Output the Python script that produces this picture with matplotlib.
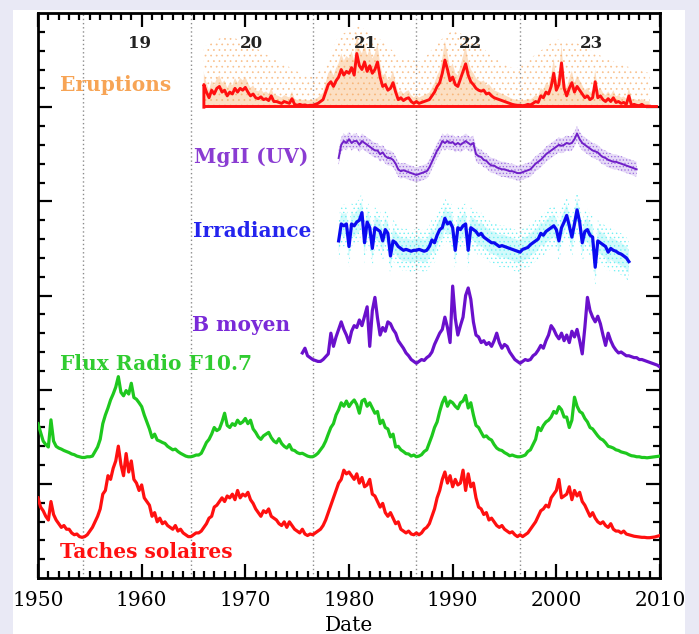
import numpy as np
import matplotlib
matplotlib.use("Agg")
import matplotlib.pyplot as plt
from matplotlib.patches import Rectangle

# ---------------- data (quarterly samples) ----------------
STEP = 0.25

# Sunspot number (monthly-like values), starts 1950.0
sunspot_start = 1950.0
sunspots = [
    110, 85, 75, 60, 50, 100, 65, 50, 40, 30, 35, 25, 25, 15, 10, 12,
    5, 3, 5, 10, 20, 30, 45, 60, 80, 120, 130, 170, 160, 190, 210, 250,
    200, 170, 230, 180, 210, 160, 150, 130, 145, 110, 100, 90, 60, 70, 45, 55,
    40, 45, 35, 30, 25, 35, 20, 25, 15, 10, 5, 5, 10, 15, 15, 20,
    30, 40, 55, 60, 85, 90, 100, 110, 100, 115, 110, 120, 105, 130, 110, 120,
    115, 125, 105, 95, 80, 70, 60, 75, 70, 80, 60, 55, 50, 40, 35, 45,
    30, 45, 35, 25, 20, 15, 25, 12, 8, 12, 10, 15, 20, 25, 35, 50,
    70, 90, 110, 130, 150, 160, 185, 175, 180, 170, 160, 175, 150, 165, 140, 145,
    160, 120, 115, 100, 85, 95, 70, 60, 70, 55, 40, 45, 25, 20, 15, 20,
    12, 10, 15, 10, 15, 25, 30, 40, 60, 80, 110, 130, 160, 180, 150, 170,
    140, 160, 145, 150, 185, 130, 175, 140, 150, 110, 85, 80, 65, 70, 50, 55,
    45, 35, 30, 35, 25, 20, 15, 18, 10, 5, 10, 5, 10, 15, 25, 35,
    45, 60, 75, 80, 90, 85, 110, 120, 130, 160, 110, 115, 120, 140, 105, 130,
    115, 125, 100, 90, 75, 60, 70, 55, 45, 40, 45, 35, 30, 40, 25, 20,
    20, 15, 20, 12, 10, 8, 6, 5, 4, 3, 3, 2, 2, 3, 4, 6,
    8,
]

# Radio flux F10.7 (sfu), starts 1950.0
f107_start = 1950.0
f107 = [
    165, 140, 115, 105, 98, 176, 115, 100, 95, 92, 88, 85, 82, 78, 76, 72,
    70, 68, 68, 70, 70, 72, 85, 98, 120, 165, 190, 210, 233, 250, 270, 300,
    255, 245, 260, 250, 281, 240, 235, 225, 214, 190, 170, 150, 125, 135, 118, 115,
    111, 108, 100, 95, 90, 92, 85, 80, 76, 72, 70, 70, 72, 75, 75, 80,
    95, 111, 120, 135, 154, 145, 150, 170, 195, 160, 154, 165, 160, 175, 165, 170,
    180, 165, 175, 150, 140, 127, 120, 130, 135, 140, 125, 115, 110, 122, 108, 100,
    95, 105, 90, 88, 82, 79, 80, 76, 72, 70, 70, 74, 80, 90, 100, 115,
    135, 154, 165, 190, 205, 225, 215, 230, 214, 225, 233, 220, 195, 230, 235, 215,
    225, 210, 195, 200, 165, 175, 154, 150, 127, 135, 98, 100, 90, 85, 79, 78,
    72, 75, 70, 72, 76, 85, 90, 110, 130, 154, 170, 200, 225, 241, 215, 230,
    225, 215, 208, 225, 230, 246, 210, 225, 190, 160, 154, 140, 127, 130, 122, 118,
    105, 95, 90, 88, 82, 78, 73, 75, 72, 70, 70, 72, 75, 85, 90, 105,
    120, 154, 145, 160, 170, 175, 184, 200, 195, 214, 205, 184, 184, 154, 175, 241,
    215, 200, 195, 180, 170, 154, 150, 140, 130, 122, 118, 110, 100, 98, 95, 90,
    88, 84, 82, 80, 76, 73, 72, 70, 70, 68, 68, 67, 68, 69, 70, 71,
    72,
]

# Mean magnetic field (relative units), starts 1975.5
bmean_start = 1975.5
bmean = [
    0.95, 1.2, 0.8, 0.7, 0.6, 0.55, 0.5, 0.5, 0.6, 0.75, 0.9, 2.0, 1.3, 1.8,
    2.2, 2.6, 2.2, 1.9, 1.5, 2.1, 2.4, 2.3, 2.7, 2.4, 2.9, 3.4, 1.3, 3.2, 3.9, 2.8,
    1.9, 2.3, 2.1, 2.6, 2.5, 2.2, 2.0, 1.6, 1.4, 1.2, 0.95, 0.8, 0.6, 0.5, 0.4, 0.5,
    0.6, 0.55, 0.7, 0.8, 1.0, 1.4, 1.7, 2.0, 2.2, 2.85, 2.3, 1.5, 4.5, 2.8, 1.9, 2.4,
    2.85, 4.0, 4.4, 3.8, 2.6, 1.9, 1.8, 1.5, 1.6, 1.4, 1.5, 1.3, 1.6, 2.0, 1.5, 1.2,
    1.4, 1.3, 1.0, 0.8, 0.6, 0.5, 0.4, 0.5, 0.6, 0.55, 0.6, 0.8, 0.9, 1.1, 1.35, 1.2,
    1.6, 1.9, 2.4, 2.2, 1.9, 1.7, 2.0, 1.6, 1.9, 1.5, 2.1, 1.8, 2.2, 1.6, 0.9, 2.3,
    3.9, 3.2, 2.85, 2.6, 2.9, 2.5, 1.9, 1.35, 2.0, 1.6, 1.3, 1.1, 0.95, 1.0, 0.9, 0.8,
    0.8, 0.75, 0.7, 0.7, 0.6, 0.6, 0.55, 0.5, 0.45, 0.4, 0.35, 0.3, 0.2,
]

# Total irradiance (relative units), starts 1979.0
irr_start = 1979.0
irradiance = [
    1.9, 2.8, 2.7, 2.8, 1.6, 2.8, 2.7, 2.9, 3.0, 3.4, 1.8, 2.9, 2.6, 1.5, 2.6, 2.5,
    2.4, 1.9, 2.5, 2.3, 1.1, 1.9, 1.8, 1.6, 1.5, 1.4, 1.45, 1.4, 1.35, 1.4, 1.4, 1.45,
    1.4, 1.35, 1.4, 1.6, 1.95, 1.8, 2.2, 2.5, 2.6, 3.1, 2.8, 2.9, 2.6, 1.4, 2.6, 2.5,
    2.7, 2.8, 1.4, 2.6, 2.5, 2.4, 2.2, 2.3, 2.1, 2.0, 1.9, 1.8, 1.8, 1.7, 1.6, 1.65,
    1.6, 1.55, 1.5, 1.45, 1.4, 1.35, 1.3, 1.45, 1.5, 1.55, 1.7, 1.8, 1.9, 2.0, 2.3, 2.2,
    2.4, 2.5, 2.6, 2.7, 2.5, 1.9, 2.6, 2.9, 3.25, 2.7, 2.1, 2.8, 3.55, 2.9, 1.8, 2.4,
    2.5, 2.2, 2.1, 0.5, 1.9, 1.8, 1.7, 1.6, 1.3, 1.5, 1.4, 1.35, 1.25, 1.2, 1.1, 1.0,
    0.8,
]
irr_spread = 1.1

# MgII core-to-wing index (relative units), starts 1979.0
mg_start = 1979.0
mgii = [
    1.3, 2.0, 2.2, 2.1, 2.3, 2.1, 2.2, 2.2, 2.0, 2.2, 2.1, 2.0, 1.9, 1.8, 1.7, 1.7,
    1.5, 1.6, 1.4, 1.3, 1.3, 1.2, 1.0, 0.7, 0.6, 0.65, 0.6, 0.55, 0.5, 0.45, 0.4, 0.45,
    0.5, 0.55, 0.6, 0.8, 1.1, 1.4, 1.7, 1.9, 2.2, 2.1, 2.2, 2.1, 2.15, 2.0, 2.1, 2.0,
    2.1, 2.2, 2.1, 2.0, 2.1, 1.5, 1.4, 1.35, 1.2, 1.15, 1.0, 0.9, 0.9, 0.8, 0.75, 0.7,
    0.7, 0.65, 0.6, 0.6, 0.55, 0.5, 0.5, 0.55, 0.6, 0.65, 0.7, 0.85, 1.0, 1.1, 1.2, 1.35,
    1.5, 1.6, 1.7, 1.8, 1.9, 2.0, 1.95, 2.0, 2.1, 2.05, 2.1, 2.3, 2.6, 2.3, 2.1, 2.0,
    1.9, 1.8, 1.7, 1.65, 1.6, 1.45, 1.35, 1.3, 1.2, 1.15, 1.1, 1.1, 1.05, 1.0, 0.95, 0.9,
    0.85, 0.8, 0.75, 0.7,
]
mg_spread = 0.4

# Flare rate (relative units), starts 1966.0
eru_start = 1966.0
eruptions = [
    1.2, 0.8, 0.5, 0.9, 0.7, 1.0, 1.1, 0.8, 0.9, 0.6, 0.8, 0.7, 1.0, 0.8, 1.0, 0.9,
    1.05, 0.8, 0.6, 0.7, 0.5, 0.45, 0.55, 0.4, 0.45, 0.35, 0.6, 0.3, 0.3, 0.25, 0.2, 0.3,
    0.25, 0.2, 0.45, 0.15, 0.1, 0.15, 0.1, 0.12, 0.08, 0.1, 0.1, 0.15, 0.2, 0.3, 0.4, 0.8,
    1.2, 1.35, 1.1, 1.4, 1.6, 2.0, 1.7, 1.9, 1.8, 2.1, 1.7, 2.85, 2.2, 2.0, 2.4, 1.9,
    2.2, 1.8, 2.0, 2.4, 1.6, 1.1, 1.2, 0.9, 1.0, 1.3, 0.8, 0.4, 0.5, 0.35, 0.45, 0.5,
    0.3, 0.2, 0.3, 0.2, 0.25, 0.3, 0.35, 0.4, 0.6, 0.8, 1.1, 1.3, 1.8, 2.5, 2.0, 1.4,
    1.6, 1.2, 1.1, 1.5, 1.9, 2.3, 1.7, 1.35, 1.2, 1.0, 0.9, 0.85, 0.9, 0.7, 0.75, 0.6,
    0.5, 0.45, 0.4, 0.35, 0.3, 0.25, 0.2, 0.15, 0.12, 0.1, 0.1, 0.08, 0.1, 0.15, 0.12, 0.2,
    0.3, 0.25, 0.6, 0.5, 0.8, 0.7, 1.1, 1.8, 0.9, 1.2, 2.35, 1.0, 0.6, 1.0, 1.3, 0.8,
    1.1, 0.9, 0.7, 0.5, 0.6, 0.4, 0.5, 1.35, 0.5, 0.6, 0.4, 0.3, 0.45, 0.3, 0.5, 0.25,
    0.3, 0.2, 0.25, 0.15, 0.6, 0.1, 0.15, 0.1, 0.08, 0.15, 0.05, 0.05, 0.05,
]
# upper reach of the individual-flare dot cloud
eru_cloud_years = [1966, 1968, 1970, 1972, 1974, 1976, 1977.5, 1979, 1981, 1983, 1985,
                   1987, 1988.5, 1990, 1992, 1994, 1996, 1998, 2000, 2002, 2004, 2006, 2009]
eru_cloud_top = [3.2, 3.8, 3.5, 2.8, 2.2, 1.6, 2.0, 3.8, 4.3, 3.6, 2.6,
                 2.4, 3.4, 4.1, 3.6, 2.6, 2.0, 2.8, 3.6, 3.4, 2.8, 2.3, 1.8]

cycle_numbers = ["19", "20", "21", "22", "23"]
cycle_label_years = [1959.8, 1970.6, 1981.6, 1991.7, 2003.4]
cycle_minima = [1954.3, 1964.8, 1976.5, 1986.5, 1996.5]

xticks = [1950, 1960, 1970, 1980, 1990, 2000, 2010]

# ---------------- styling ----------------
BG = "#e9e9f5"
RED = "#ff1010"
GREEN = "#1ec81e"
PURPLE = "#6a10cc"
BLUE = "#0a0af0"
CYAN = "#6ff0f4"
ORANGE = "#f7a455"
MG_PURPLE = "#7020c8"

def tgrid(start, vals):
    return start + STEP * np.arange(len(vals))

plt.rcParams["hatch.linewidth"] = 0.5

fig = plt.figure(figsize=(6.99, 6.34), dpi=100, facecolor=BG)
panel = Rectangle((13 / 699, 0), (685 - 13) / 699, (634 - 10) / 634,
                  transform=fig.transFigure, facecolor="white",
                  edgecolor="none", zorder=-10)
fig.patches.append(panel)
ax = fig.add_axes([38 / 699, (634 - 578) / 634, 622 / 699, 565 / 634])
ax.set_zorder(2)
ax.set_facecolor("white")
ax.set_xlim(1950, 2010)
ax.set_ylim(0, 30)

# cycle minima
for xm in cycle_minima:
    ax.axvline(xm, color="#8c8c8c", lw=1.0, ls=(0, (1, 2)), zorder=1)

LW = 2.3

# sunspots
x = tgrid(sunspot_start, sunspots)
ax.plot(x, 2.1 + 0.0196 * np.array(sunspots), color=RED, lw=LW, zorder=3)

# radio flux
x = tgrid(f107_start, f107)
ax.plot(x, 5.142 + 0.0185 * np.array(f107), color=GREEN, lw=LW, zorder=3)

# mean field
x = tgrid(bmean_start, bmean)
ax.plot(x, 11.0 + np.array(bmean), color=PURPLE, lw=LW, zorder=3)

# irradiance
x = tgrid(irr_start, irradiance)
yi = 16.0 + np.array(irradiance)
ax.fill_between(x, yi - irr_spread, yi + irr_spread, facecolor="none",
                edgecolor=CYAN, hatch="....", linewidth=0, zorder=2)
ax.fill_between(x, yi - irr_spread * 0.55, yi + irr_spread * 0.55, facecolor=CYAN,
                alpha=0.3, linewidth=0, zorder=2)
ax.plot(x, yi, color=BLUE, lw=LW, zorder=3)

# MgII
x = tgrid(mg_start, mgii)
ym = 21.0 + np.array(mgii)
ax.fill_between(x, ym - mg_spread, ym + mg_spread, facecolor="#b898ea",
                alpha=0.35, linewidth=0, zorder=2)
ax.fill_between(x, ym - mg_spread, ym + mg_spread, facecolor="none",
                edgecolor="#9c6ae0", hatch=".....", linewidth=0, zorder=2)
ax.plot(x, ym, color=MG_PURPLE, lw=1.4, zorder=3)

# eruptions
x = tgrid(eru_start, eruptions)
ye = 25.0 + np.array(eruptions)
cloud = 25.0 + np.interp(x, eru_cloud_years, eru_cloud_top)
ax.fill_between(x, 25.0, cloud, facecolor="none", edgecolor="#f9c08c",
                hatch="...", linewidth=0, zorder=2)
ax.fill_between(x, 25.0, 25.0 + 1.3 * np.array(eruptions) + 0.25, facecolor=ORANGE,
                alpha=0.35, linewidth=0, zorder=2)
ax.plot(np.r_[x[0], x], np.r_[25.0, ye], color=RED, lw=2.1, zorder=3)
ax.plot([x[0], x[-1] + 0.6], [25.05, 25.05], color=RED, lw=2.1, zorder=3)

# labels
lab = dict(fontfamily="DejaVu Serif", fontweight="bold", fontsize=14.5, va="center",
           ha="left", zorder=5)
ax.text(1952.1, 26.2, "Eruptions", color=ORANGE, **lab)
ax.text(1965.0, 22.36, "MgII (UV)", color="#8a3cd2", **lab)
ax.text(1965.0, 18.43, "Irradiance", color="#2424ee", **lab)
ax.text(1964.9, 13.44, "B moyen", color="#7a2ad8", **lab)
ax.text(1952.1, 11.36, "Flux Radio F10.7", color="#30cc30", **lab)
ax.text(1952.1, 1.38, "Taches solaires", color=RED, **lab)

for name, xc in zip(cycle_numbers, cycle_label_years):
    ax.text(xc, 28.4, name, color="#222222", fontfamily="DejaVu Serif",
            fontweight="bold", fontsize=12, ha="center", va="center", zorder=5)

# axes frame & ticks
for s in ax.spines.values():
    s.set_linewidth(2.0)
    s.set_color("black")
ax.set_xticks(xticks)
ax.set_xticks(np.arange(1951, 2010, 1), minor=True)
ax.set_yticks([5, 10, 15, 20, 25])
ax.set_yticks(np.arange(1, 30, 1), minor=True)
ax.set_yticklabels([])
ax.tick_params(which="both", direction="in", top=True, right=True, width=1.6,
               color="black")
ax.tick_params(which="major", length=10)
ax.tick_params(which="minor", length=5)
ax.tick_params(axis="x", which="major", pad=9, labelsize=14.5)
for t in ax.get_xticklabels():
    t.set_fontfamily("DejaVu Serif")
ax.set_xlabel("Date", fontfamily="DejaVu Serif", fontsize=14.5, labelpad=5)

fig.savefig("out.png", dpi=100, facecolor=BG)
